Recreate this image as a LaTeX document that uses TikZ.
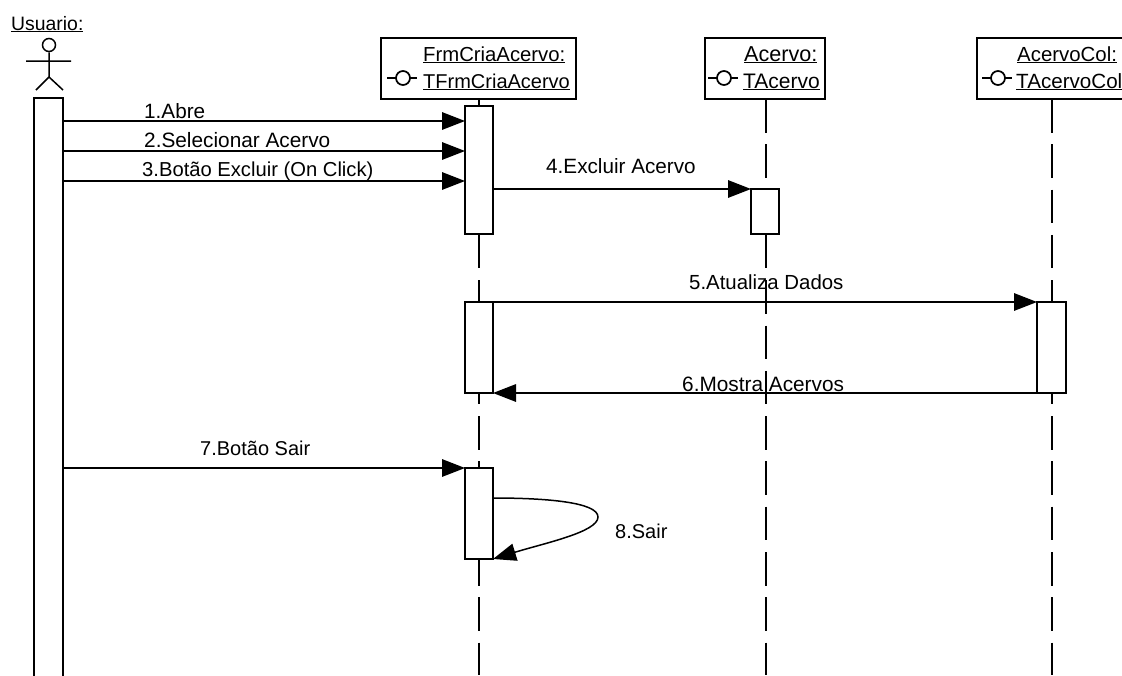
\documentclass[tikz,border=0pt]{standalone}
\usepackage{fontspec}
\setmainfont{Liberation Sans}
\usetikzlibrary{arrows.meta,calc}
\tikzset{
  obj/.style={draw,fill=white,line width=1.5pt,inner sep=0pt,outer sep=0pt,minimum height=61pt},
  act/.style={draw,fill=white,line width=1.5pt,inner sep=0pt,outer sep=0pt},
  life/.style={line width=1.5pt,dash pattern=on 33.5pt off 11.8pt},
  msg/.style={line width=1.5pt,-{Triangle[length=23pt,width=17.5pt]},shorten >=0pt},
  lbl/.style={anchor=base west,inner sep=0pt,font=\fontsize{#1}{#1}\selectfont},
  lbl/.default=20,
  icon/.style={line width=1.5pt},
  iconc/.style={circle,draw,fill=white,line width=1.7pt,minimum size=14pt,inner sep=0pt}
}
\begin{document}
\begin{tikzpicture}[x=1pt,y=-1pt]
\useasboundingbox (0,0) rectangle (1122,675);
\clip (0,0) rectangle (1122,675);
% objects
\node[obj,minimum width=195pt,anchor=north west] (bf) at (381,38) {};
\node[obj,minimum width=120pt,anchor=north west] (ba) at (705,38) {};
\node[obj,minimum width=165pt,anchor=north west] (bc) at (977,38) {};
\coordinate (ef) at (479,675);
\coordinate (ea) at (766,675);
\coordinate (ec) at (1052,675);
% lifelines
\draw[life] (ef |- bf.south) -- (ef);
\draw[life] (ea |- ba.south) -- (ea);
\draw[life] (ec |- bc.south) -- (ec);
% object labels
\node[lbl=20.3] (t1) at (423,61) {\underline{FrmCriaAcervo:}};
\node[lbl=20] (t2) at (423,88) {\underline{TFrmCriaAcervo}};
\node[lbl=21.6] (t3) at (744,61) {\underline{Acervo:}};
\node[lbl=21] (t4) at (743,88) {\underline{TAcervo}};
\node[lbl=20.4] (t5) at (1017,61) {\underline{AcervoCol:}};
\node[lbl=20.6] (t6) at (1016,88) {\underline{TAcervoCol}};
% interface icons
\foreach \n/\x in {if/387,ia/708,ic/982}{
  \coordinate (\n a) at (\x,78);
  \coordinate (\n b) at (\x+30,78);
  \draw[icon] (\n a) -- (\n b);
  \node[iconc] (\n c) at (\x+16,78) {};
}
% actor
\node[lbl=19.4] (usr) at (11,30) {\underline{Usuario:}};
\node[circle,draw,line width=1.5pt,minimum size=13pt,inner sep=0pt] (head) at (49,45) {};
\coordinate (armL) at (26,61);
\coordinate (armR) at (71,61);
\coordinate (hip) at (49,77);
\coordinate (legL) at (36,90);
\coordinate (legR) at (63,90);
\draw[line width=1.5pt] (head) -- (hip) (armL) -- (armR) (legL) -- (hip) -- (legR);
% activations
\node[act,minimum width=29pt,minimum height=590pt,anchor=north west] (ua) at (34,98) {};
\node[act,minimum width=28pt,minimum height=128pt,anchor=north west] (f1) at (465,106) {};
\node[act,minimum width=28pt,minimum height=45pt,anchor=north west] (a1) at (751,189) {};
\node[act,minimum width=28pt,minimum height=91pt,anchor=north west] (f2) at (465,302) {};
\node[act,minimum width=29pt,minimum height=91pt,anchor=north west] (c1) at (1037,302) {};
\node[act,minimum width=28pt,minimum height=91pt,anchor=north west] (f3) at (465,468) {};
% messages
\coordinate (m1) at (0,121);
\coordinate (m2) at (0,151);
\coordinate (m3) at (0,181);
\coordinate (m7) at (0,468);
\draw[msg] (ua.east |- m1) -- (f1.west |- m1);
\draw[msg] (ua.east |- m2) -- (f1.west |- m2);
\draw[msg] (ua.east |- m3) -- (f1.west |- m3);
\draw[msg] (f1.east |- a1.north) -- (a1.north west);
\draw[msg] (f2.north east) -- (c1.north west);
\draw[msg] (c1.south west) -- (f2.south east);
\draw[msg] (ua.east |- m7) -- (f3.north west);
\coordinate (s1) at ($(f3.north east)+(0,30)$);
\draw[msg] (s1) .. controls (545,498) and (598,502) .. (598,517) .. controls (598,532) and (545,543) .. (f3.south east);
% message labels
\node[lbl=20.7] (l1) at (144,118) {1.Abre};
\node[lbl=20.8] (l2) at (144,147) {2.Selecionar Acervo};
\node[lbl=20.2] (l3) at (142,176) {3.Botão Excluir (On Click)};
\node[lbl=20.7] (l4) at (546,173) {4.Excluir Acervo};
\node[lbl=20.4] (l5) at (689,289) {5.Atualiza Dados};
\node[lbl=20.8] (l6) at (682,391) {6.Mostra Acervos};
\node[lbl=20] (l7) at (200,455) {7.Botão Sair};
\node[lbl=20] (l8) at (615,538) {8.Sair};
\end{tikzpicture}
\end{document}
